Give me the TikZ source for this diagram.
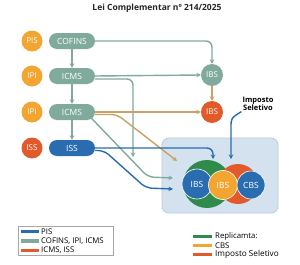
\documentclass[tikz,border=0pt]{standalone}
\usepackage{fontspec}
\setmainfont{Open Sans}
\usetikzlibrary{arrows.meta}
\definecolor{corange}{HTML}{F2A531}
\definecolor{cred}{HTML}{E2592A}
\definecolor{cteal}{HTML}{7FAA9C}
\definecolor{cblue}{HTML}{2A6CB0}
\definecolor{cgreen}{HTML}{2E8B4B}
\definecolor{ctan}{HTML}{C9A262}
\definecolor{cbox}{HTML}{D3E2EE}
\definecolor{cboxe}{HTML}{B8CCDD}
\tikzset{
  circ/.style={circle,minimum size=21pt,inner sep=0pt,text=white,font=\fontsize{8}{8}\selectfont},
  pill/.style={rounded corners=8pt,minimum width=46pt,minimum height=16pt,inner sep=0pt,text=white,font=\fontsize{8.5}{9}\selectfont},
  conn/.style={line width=1.4pt,-{Stealth[length=4.5pt,width=4.5pt]},rounded corners=6pt},
  inner/.style={circle,inner sep=0pt,text=white,font=\fontsize{8.5}{9}\selectfont},
  legtxt/.style={anchor=west,inner sep=0pt,font=\fontsize{7.8}{8}\selectfont},
}
\begin{document}
\begin{tikzpicture}[x=1pt,y=-1pt]
\useasboundingbox (0,0) rectangle (300,265);
\fill[white] (0,0) rectangle (300,265);
\node[font=\bfseries\fontsize{8.5}{9}\selectfont,text=black!85] (title) at (157,8) {Lei Complementar nº 214/2025};

% left column
\node[circ,fill=corange] (pis) at (32,41) {PIS};
\node[circ,fill=corange] (ipi1) at (32,76) {IPI};
\node[circ,fill=corange] (ipi2) at (32,112) {IPI};
\node[circ,fill=cred] (issc) at (32,148) {ISS};
\node[pill,fill=cteal] (cofins) at (72,41) {COFINS};
\node[pill,fill=cteal] (icmsa) at (72,76) {ICMS};
\node[pill,fill=cteal] (icmsb) at (72,112) {ICMS};
\node[pill,fill=cblue] (iss) at (72,148) {ISS};

% right circles
\node[circ,fill=cteal,minimum size=22pt] (ibsa) at (212,75) {IBS};
\node[circ,fill=cred,minimum size=22pt] (ibsb) at (212,112) {IBS};
\node[align=center,font=\bfseries\fontsize{7.5}{7.5}\selectfont,inner sep=0pt] (seletivo) at (258,104) {Imposto\\Seletivo};

% box
\node[draw=cboxe,fill=cbox,rounded corners=7pt,minimum width=116pt,minimum height=75pt,line width=0.8pt] (box) at (220,175.5) {};
\fill[cgreen] (207,184) circle (24);
\fill[cred] (238,184) circle (20);
\node[inner,fill=cblue,draw=white,line width=0.6pt,minimum size=30pt] (ibsin1) at (197,184) {IBS};
\node[inner,fill=corange,draw=white,line width=0.6pt,minimum size=29pt] (ibsin2) at (223,185) {IBS};
\node[inner,fill=cblue,draw=white,line width=0.6pt,minimum size=28pt] (cbsin) at (251,185) {CBS};

% endpoints
\coordinate (e1) at (133,157);
\coordinate (e2) at (177,161);
\coordinate (e3) at (173,178);
\coordinate (e4) at (173,189);
\coordinate (e5) at (213,159);
\coordinate (e6) at (231,159);

% connectors
\draw[conn,cteal] (cofins.east) -| (ibsa.north);
\draw[conn,cteal] (icmsa.east) -- (ibsa.west);
\draw[conn,cteal] ([yshift=-3pt]icmsa.east) -| (e1);
\draw[conn,ctan] (icmsb.east) -- (ibsb.west);
\draw[conn,ctan] ([yshift=-2.5pt]icmsb.east) -- (117,114.5) -- (e2);
\draw[conn,cteal] ([xshift=-4pt,yshift=-6pt]icmsb.east) -- (148,177) -- (e3);
\draw[conn,cblue] (iss.east) -| (e5);
\draw[conn,cblue] ([yshift=-2.5pt]iss.east) -- (104,150.5) -- (146,188) -- (e4);
\draw[conn,ctan] (ibsa.south) -- (ibsb.north);
\draw[conn,cblue,rounded corners=0pt] (seletivo.south west) ++(-1,1) .. controls (231,118) .. (231,128) -- (e6);
\draw[conn,cteal] (cofins.south) -- (icmsa.north);
\draw[conn,cteal] (icmsa.south) -- (icmsb.north);
\draw[conn,cteal] (icmsb.south) -- (iss.north);

% left legend
\node[draw=black!35,fill=white,minimum width=95pt,minimum height=29pt,line width=0.5pt] (leg) at (65.5,240.5) {};
\fill[cblue] (21,229.5) rectangle (39,233);
\node[legtxt] (l1) at (41,231.5) {PIS};
\fill[cteal] (21,239) rectangle (39,242.5);
\node[legtxt] (l2) at (41,241) {COFINS, IPI, ICMS};
\fill[cred] (21,248.5) rectangle (39,252);
\node[legtxt] (l3) at (41,250.5) {ICMS, ISS};

% right legend
\fill[cgreen] (193,234.5) rectangle (212,238);
\node[legtxt] (r1) at (215,236.5) {Replicamta:};
\fill[corange] (193,243.5) rectangle (212,247);
\node[legtxt] (r2) at (215,245.5) {CBS};
\fill[cred] (193,252.5) rectangle (212,256);
\node[legtxt,font=\fontsize{8.2}{8}\selectfont] (r3) at (215,254.5) {Imposto Seletivo};
\end{tikzpicture}
\end{document}
